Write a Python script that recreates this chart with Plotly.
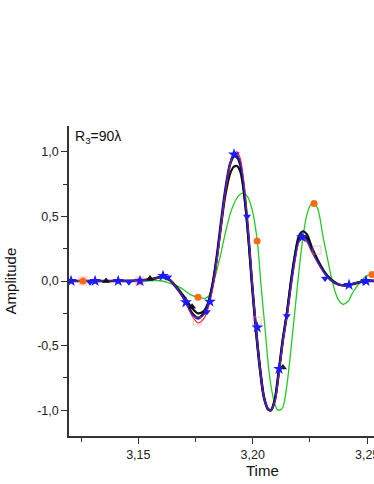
import plotly.graph_objects as go

# shared time grid for the red / blue / black traces
t_main = [3.1184, 3.1289, 3.1398, 3.1500, 3.1560, 3.1608, 3.1639, 3.1665, 3.1687, 3.1708,
          3.1735, 3.1761, 3.1787, 3.1805, 3.1826, 3.1844, 3.1861, 3.1879, 3.1901, 3.1918,
          3.1931, 3.1945, 3.1958, 3.1971, 3.1984, 3.1997, 3.2014, 3.2032, 3.2049, 3.2067,
          3.2080, 3.2097, 3.2115, 3.2132, 3.2150, 3.2167, 3.2185, 3.2202, 3.2220, 3.2237,
          3.2259, 3.2285, 3.2312, 3.2338, 3.2373, 3.2408, 3.2447, 3.2491, 3.2539]

amp_blue = [0, 0, 0, 0.002, 0.013, 0.036, 0.005, -0.049, -0.103, -0.165,
            -0.257, -0.296, -0.257, -0.188, -0.018, 0.199, 0.447, 0.694, 0.919, 0.988,
            0.98, 0.919, 0.772, 0.555, 0.284, -0.026, -0.374, -0.683, -0.9, -0.993,
            -1.0, -0.915, -0.683, -0.451, -0.25, -0.026, 0.183, 0.315, 0.338, 0.315,
            0.23, 0.145, 0.067, 0.013, -0.026, -0.033, -0.018, 0.0, 0.0]

amp_red = [0, 0, 0, 0.003, 0.015, 0.03, 0.008, -0.045, -0.10, -0.17,
           -0.27, -0.325, -0.29, -0.21, -0.05, 0.16, 0.41, 0.67, 0.90, 0.985,
           1.0, 0.95, 0.81, 0.59, 0.31, 0.0, -0.36, -0.68, -0.9, -0.99,
           -1.0, -0.93, -0.71, -0.47, -0.27, -0.04, 0.17, 0.30, 0.325, 0.30,
           0.22, 0.14, 0.065, 0.012, -0.026, -0.033, -0.018, 0.0, 0.0]

amp_black1 = [0, 0, 0, 0.002, 0.013, 0.034, 0.005, -0.048, -0.10, -0.16,
              -0.25, -0.285, -0.25, -0.18, -0.015, 0.20, 0.445, 0.69, 0.905, 0.965,
              0.96, 0.905, 0.76, 0.55, 0.28, -0.026, -0.374, -0.683, -0.9, -0.993,
              -1.0, -0.915, -0.683, -0.451, -0.25, -0.02, 0.19, 0.325, 0.35, 0.33,
              0.24, 0.15, 0.07, 0.013, -0.026, -0.033, -0.018, 0.0, 0.0]

amp_black2 = [0, 0, 0, 0.005, 0.015, 0.03, 0.005, -0.04, -0.09, -0.14,
              -0.21, -0.25, -0.23, -0.17, -0.01, 0.19, 0.42, 0.65, 0.83, 0.885,
              0.89, 0.85, 0.73, 0.53, 0.27, -0.02, -0.37, -0.68, -0.9, -0.99,
              -1.0, -0.92, -0.69, -0.45, -0.24, 0.0, 0.21, 0.35, 0.385, 0.36,
              0.26, 0.16, 0.075, 0.02, -0.025, -0.035, -0.02, 0.0, 0.0]

t_green = [3.1184, 3.1333, 3.1507, 3.1595, 3.1639, 3.1682, 3.1726, 3.1761, 3.1792, 3.1813,
           3.1835, 3.1857, 3.1879, 3.1901, 3.1923, 3.1945, 3.1962, 3.1979, 3.1997, 3.2019,
           3.2036, 3.2054, 3.2071, 3.2089, 3.2106, 3.2119, 3.2132, 3.2150, 3.2167, 3.2185,
           3.2202, 3.2220, 3.2237, 3.2255, 3.2268, 3.2285, 3.2307, 3.2329, 3.2351, 3.2373,
           3.2395, 3.2417, 3.2438, 3.2469, 3.2495, 3.2521, 3.2548]
amp_green = [0, 0, 0, 0.002, -0.018, -0.049, -0.103, -0.126, -0.134, -0.103,
             0.029, 0.183, 0.361, 0.516, 0.617, 0.671, 0.679, 0.648, 0.555, 0.323,
             -0.026, -0.374, -0.699, -0.9, -0.993, -1.0, -0.977, -0.799, -0.528, -0.219,
             0.075, 0.346, 0.516, 0.594, 0.601, 0.555, 0.346, 0.153, -0.026, -0.142,
             -0.18, -0.157, -0.087, -0.01, 0.036, 0.052, 0.052]

# sparse symbol markers
star_t = [3.1206, 3.1311, 3.1412, 3.1507, 3.1608, 3.1708, 3.1813, 3.1918, 3.2020, 3.2115, 3.2215, 3.2421, 3.2495]
star_amp = [0, 0, 0, 0, 0.04, -0.165, -0.16, 0.98, -0.36, -0.68, 0.34, -0.03, 0.0]
tdown_t = [3.1289, 3.1459, 3.1630, 3.1799, 3.1975, 3.2149, 3.2316, 3.2486]
tdown_amp = [-0.01, -0.01, 0.03, -0.24, 0.50, -0.27, 0.02, -0.01]
tup_t = [3.1359, 3.1551, 3.1735, 3.2132]
tup_amp = [0, 0.02, -0.2, -0.67]
circ_t = [3.1258, 3.1507, 3.1761, 3.2019, 3.2268, 3.2521]
circ_amp = [0, 0, -0.126, 0.31, 0.60, 0.05]
sq_t = [3.1258, 3.1507, 3.1757, 3.2019, 3.2281]
sq_amp = [0, 0, -0.31, -0.31, 0.24]

x_tickvals = [3.15, 3.20, 3.25]
x_ticktext = ["3,15", "3,20", "3,25"]
y_tickvals = [-1.0, -0.5, 0.0, 0.5, 1.0]
y_ticktext = ["-1,0", "-0,5", "0,0", "0,5", "1,0"]

FONT = "Liberation Sans, Arial, sans-serif"

fig = go.Figure()

def add_line(x, y, color, width):
    fig.add_trace(go.Scatter(x=x, y=y, mode="lines",
                             line=dict(color=color, width=width, shape="spline", smoothing=0.8)))

def add_marks(x, y, symbol, color, size, line_color=None):
    fig.add_trace(go.Scatter(x=x, y=y, mode="markers",
                             marker=dict(symbol=symbol, color=color, size=size,
                                         line=dict(width=1 if line_color else 0, color=line_color or color))))

add_line(t_green, amp_green, "#22cc22", 1.3)
add_line(t_main, amp_black1, "#111111", 2.6)
add_line(t_main, amp_black2, "#111111", 2.2)
add_line(t_main, amp_red, "#ff1a1a", 1.2)
add_line(t_main, amp_blue, "#2020ff", 1.2)

add_marks(sq_t, sq_amp, "square-open", "rgba(255,140,140,0.55)", 8, "rgba(255,140,140,0.55)")
add_marks(circ_t, circ_amp, "circle", "#ff6a13", 7)
add_marks(tup_t, tup_amp, "triangle-up", "#111111", 7)
add_marks(tdown_t, tdown_amp, "triangle-down", "#1a1aff", 7)
add_marks(star_t, star_amp, "star", "#1a1aff", 9)

axis_common = dict(
    showgrid=False,
    zeroline=False,
    showline=True,
    automargin=False,
    ticklabeloverflow="allow",
    linecolor="#333333",
    linewidth=1.6,
    ticks="outside",
    ticklen=6,
    tickwidth=1.4,
    tickcolor="#333333",
    tickfont=dict(family=FONT, size=12.5, color="#222222"),
)

fig.update_xaxes(
    range=[3.1197, 3.253],
    tickvals=x_tickvals,
    ticktext=x_ticktext,
    minor=dict(tickvals=[3.125, 3.175, 3.225], ticks="outside", ticklen=4, tickwidth=1.4, tickcolor="#333333"),
    **axis_common,
)
fig.update_yaxes(
    range=[-1.2, 1.2],
    tickvals=y_tickvals,
    ticktext=y_ticktext,
    minor=dict(tickvals=[-0.75, -0.25, 0.25, 0.75], ticks="outside", ticklen=4, tickwidth=1.4, tickcolor="#333333"),
    **axis_common,
)

fig.add_annotation(text="R<sub>3</sub>=90λ", xref="paper", yref="paper", x=0.012, y=1.0,
                   xanchor="left", yanchor="top", showarrow=False,
                   font=dict(family=FONT, size=14, color="#111111"))
fig.add_annotation(text="Time", xref="paper", yref="paper", x=0.636, y=-0.11,
                   xanchor="center", yanchor="middle", showarrow=False,
                   font=dict(family=FONT, size=15, color="#111111"))
fig.add_annotation(text="Amplitude", xref="paper", yref="paper", x=-0.192, y=0.5,
                   xanchor="center", yanchor="middle", showarrow=False, textangle=-90,
                   font=dict(family=FONT, size=15, color="#111111"))

fig.update_layout(
    width=374,
    height=484,
    showlegend=False,
    hovermode=False,
    plot_bgcolor="white",
    paper_bgcolor="white",
    margin=dict(l=69, r=0, t=126, b=48),
)

# drop the default page margin so the figure sits at the window's corner
fig.write_html("out.html", config=dict(displayModeBar=False),
               post_script="document.body.style.margin='0';")
